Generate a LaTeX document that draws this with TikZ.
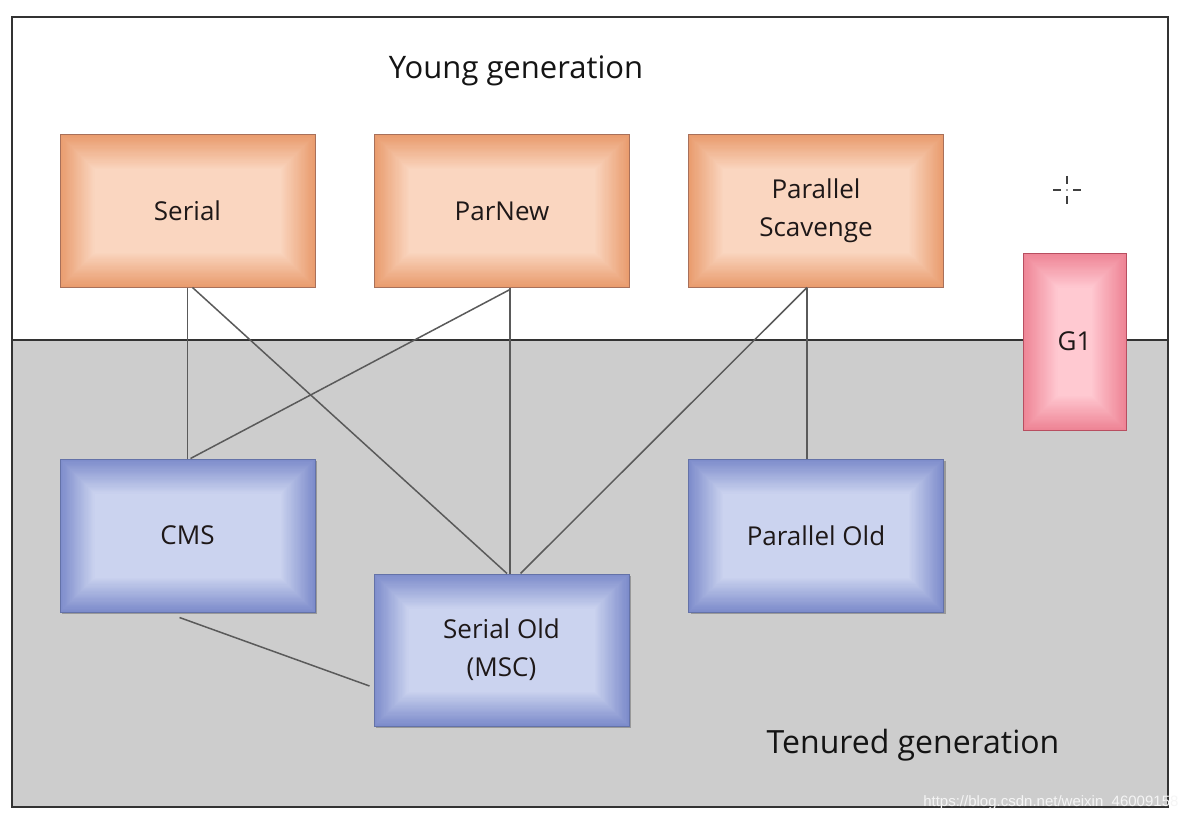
\documentclass[tikz,border=0pt]{standalone}
\usepackage{fontspec}
\setmainfont{Open Sans}
\newfontfamily\wmfont{Liberation Sans}
\usetikzlibrary{shadows}
\definecolor{orEdge}{HTML}{E99C6E}
\definecolor{orCenter}{HTML}{FAD6C0}
\definecolor{orBorder}{HTML}{A8705A}
\definecolor{blEdge}{HTML}{7D8CCB}
\definecolor{blCenter}{HTML}{CBD3EF}
\definecolor{blBorder}{HTML}{6472A8}
\definecolor{pkEdge}{HTML}{EE8495}
\definecolor{pkCenter}{HTML}{FFC9D1}
\definecolor{pkBorder}{HTML}{B84E60}
\definecolor{tenGrey}{HTML}{CDCDCD}
\definecolor{frameCol}{HTML}{333333}
\definecolor{connCol}{HTML}{5A5A5A}
\definecolor{txtCol}{HTML}{1E1818}
\newcommand\bevelfill[2]{%
  \foreach \bvi in {0,...,32}{%
    \pgfmathtruncatemacro\bvp{min(100,\bvi*100/30)}%
    \pgfmathsetmacro\bvd{\bvi*1.15}%
    \fill[#2!\bvp!#1] ([shift={(\bvd pt,\bvd pt)}]path picture bounding box.south west) rectangle ([shift={(-\bvd pt,-\bvd pt)}]path picture bounding box.north east);
  }}
\tikzset{
  gcbox/.style={draw=#1, line width=1pt, minimum width=255pt, minimum height=152pt, inner sep=0pt,
    text=txtCol, font=\fontsize{26}{38}\selectfont, align=center},
  youngbox/.style={gcbox=orBorder, path picture={\bevelfill{orEdge}{orCenter}}},
  oldbox/.style={gcbox=blBorder, path picture={\bevelfill{blEdge}{blCenter}},
    drop shadow={shadow xshift=2pt, shadow yshift=-2pt, fill=black, opacity=0.25}},
  g1box/.style={gcbox=pkBorder, minimum width=103pt, minimum height=177pt, path picture={\bevelfill{pkEdge}{pkCenter}}},
  conn/.style={draw=connCol, line width=1.5pt},
  gentext/.style={text=black!92, font=\fontsize{31}{36}\selectfont},
  crossdash/.style={draw=black!75, line width=1.3pt}
}
\begin{document}
\begin{tikzpicture}[x=1pt, y=-1pt]
  \useasboundingbox (0,0) rectangle (1188,821);
  \fill[white] (0,0) rectangle (1188,821);
  % tenured region
  \fill[tenGrey] (12,340) rectangle (1168,807);
  \draw[frameCol, line width=1.3pt] (12,340) -- (1168,340);
  \draw[frameCol, line width=2pt] (12,17) rectangle (1168,807);

  \node[gentext] (young) at (516,71) {Young generation};
  \node[gentext, font=\fontsize{32}{36}\selectfont] (tenured) at (913,745) {Tenured generation};

  % crosshair
  \coordinate (cross) at (1067,190);
  \draw[crossdash] ([xshift=-14pt]cross) -- ([xshift=-6pt]cross);
  \draw[crossdash] ([xshift=6pt]cross) -- ([xshift=14pt]cross);
  \draw[crossdash] ([yshift=14pt]cross) -- ([yshift=6pt]cross);
  \draw[crossdash] ([yshift=-6pt]cross) -- ([yshift=-14pt]cross);
  \fill[black!75] (cross) circle (0.8pt);

  % young generation collectors
  \node[youngbox] (serial) at (187.5,211) {Serial};
  \node[youngbox] (parnew) at (502,211) {ParNew};
  \node[youngbox] (ps) at (816,211) {Parallel\\Scavenge};

  % tenured generation collectors
  \node[oldbox, minimum height=153pt] (cms) at (187.5,535.5) {CMS};
  \node[oldbox] (serialold) at (501.5,650) {Serial Old\\(MSC)};
  \node[oldbox, minimum height=153pt] (parold) at (816,535.5) {Parallel Old};

  % G1 spans both
  \node[g1box] (g1) at (1074.5,341.5) {G1};

  % connectors
  \draw[conn] (serial.south) -- (cms.north);
  \draw[conn] ([xshift=5pt]serial.south) -- ([xshift=5.5pt]serialold.north);
  \draw[conn] ([xshift=8pt,yshift=-2pt]parnew.south) -- ([xshift=3pt]cms.north);
  \draw[conn] ([xshift=8pt]parnew.south) -- ([xshift=8.5pt]serialold.north);
  \draw[conn] ([xshift=-9pt]ps.south) -- ([xshift=19pt]serialold.north);
  \draw[conn] ([xshift=-9pt]ps.south) -- ([xshift=-9pt]parold.north);
  \draw[conn] ([xshift=-8pt,yshift=-5pt]cms.south) -- ([xshift=-4pt,yshift=-36pt]serialold.west);

  % watermark
  \node[text=white!92!gray, font=\wmfont\fontsize{15}{18}\selectfont, anchor=east] (wm) at (1182,803) {https://blog.csdn.net/weixin\_46009158};
\end{tikzpicture}
\end{document}
